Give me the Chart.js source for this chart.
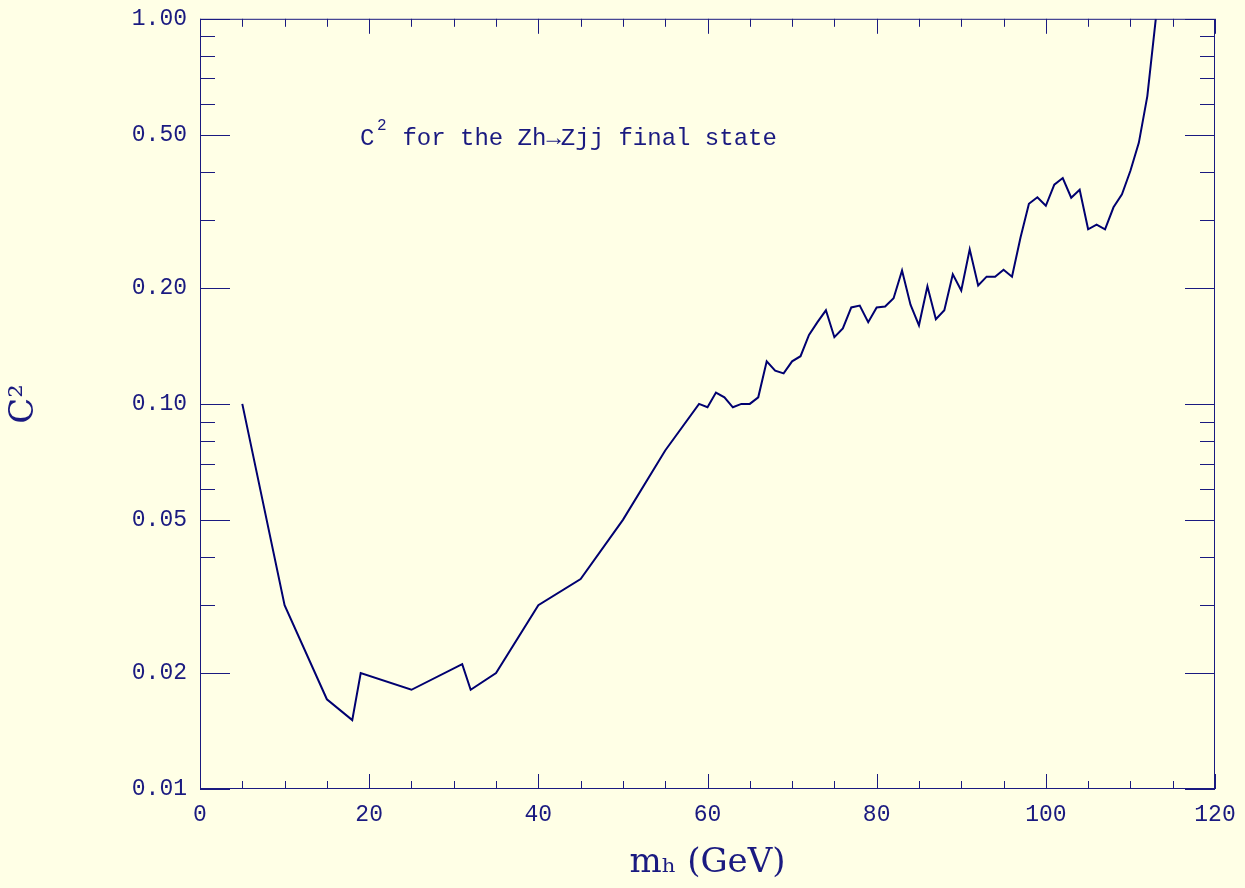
<!DOCTYPE html>
<html><head><meta charset="utf-8">
<script src="https://cdn.jsdelivr.net/npm/chart.js@4"></script>
<style>html,body{margin:0;padding:0;background:#ffffe6;}#w{width:1245px;height:888px;}</style>
</head><body><div id="w"><canvas id="c"></canvas></div>
<script>
const mh = [5,10,15,18,19,25,31,32,35,40,45,50,55,59,60,61,62,63,64,65,66,67,68,69,70,71,72,73,74,75,76,77,78,79,80,81,82,83,84,85,86,87,88,89,90,91,92,93,94,95,96,97,98,99,100,101,102,103,104,105,106,107,108,109,110,111,112,113];
const c2 = [0.1,0.03,0.0171,0.0151,0.02,0.0181,0.0211,0.0181,0.02,0.03,0.0351,0.05,0.0757,0.1,0.098,0.107,0.104,0.098,0.1,0.1,0.104,0.129,0.122,0.12,0.129,0.133,0.151,0.163,0.175,0.149,0.157,0.178,0.18,0.163,0.178,0.179,0.188,0.222,0.181,0.16,0.202,0.166,0.175,0.217,0.197,0.252,0.203,0.214,0.214,0.223,0.214,0.27,0.331,0.344,0.327,0.371,0.386,0.343,0.36,0.284,0.292,0.284,0.324,0.35,0.403,0.477,0.63,1.0];
const yTicks = [0.01,0.02,0.05,0.1,0.2,0.5,1.0];
const yMinor = [0.03,0.04,0.06,0.07,0.08,0.09,0.3,0.4,0.6,0.7,0.8,0.9];
const xTicks = [0,20,40,60,80,100,120];
const col = '#1a1a80';
const font = 'Liberation Mono';
const serif = 'DejaVu Serif';
const ticksPlugin = {id:'tk', afterDraw(ch){
  const {ctx, chartArea:a, scales:{x,y}} = ch;
  ctx.save(); ctx.strokeStyle=col; ctx.lineWidth=1;
  ctx.strokeRect(a.left+0.5,a.top+0.5,a.right-a.left-1,a.bottom-a.top-1);
  ctx.beginPath();
  for(let v=0; v<=120; v+=5){const p=Math.round(x.getPixelForValue(v))+0.5; const L=v%20===0?15:8;
    ctx.moveTo(p,a.bottom);ctx.lineTo(p,a.bottom-L);ctx.moveTo(p,a.top);ctx.lineTo(p,a.top+L);}
  yTicks.concat(yMinor).forEach(v=>{const p=Math.round(y.getPixelForValue(v))+0.5; const L=yTicks.includes(v)?30:15;
    ctx.moveTo(a.left,p);ctx.lineTo(a.left+L,p);ctx.moveTo(a.right,p);ctx.lineTo(a.right-L,p);});
  ctx.stroke();
  ctx.fillStyle=col; ctx.font='24px '+font; ctx.textBaseline='alphabetic';
  ctx.fillText('C',360,145); ctx.font='16px '+font; ctx.fillText('2',377,130);
  ctx.font='24px '+font; ctx.fillText(' for the Zh\u2192Zjj final state',388,145);
  ctx.restore();
}};
new Chart(document.getElementById('c'),{
  type:'line',
  data:{labels:mh,datasets:[{data:mh.map((m,i)=>({x:m,y:c2[i]})),borderColor:'#000070',borderWidth:2,pointRadius:0,tension:0}]},
  options:{responsive:true,maintainAspectRatio:false,animation:false,
    layout:{padding:{top:6,right:30,left:0,bottom:0}},
    plugins:{legend:{display:false},tooltip:{enabled:false}},
    scales:{
      x:{type:'linear',min:0,max:120,grid:{display:false},border:{display:false},
        afterBuildTicks:s=>{s.ticks=xTicks.map(v=>({value:v}));},
        afterFit:s=>{s.height=99;},
        ticks:{color:col,font:{family:font,size:23},padding:4,maxRotation:0},
        title:{display:true,text:'m\u2095 (GeV)',color:col,font:{family:serif,size:34},padding:{top:6}}},
      y:{type:'logarithmic',min:0.01,max:1,grid:{display:false},border:{display:false},
        afterBuildTicks:s=>{s.ticks=yTicks.map(v=>({value:v}));},
        afterFit:s=>{s.width=200;},
        ticks:{color:col,font:{family:font,size:23},padding:5,callback:v=>Number(v).toFixed(2)},
        title:{display:true,text:'C\u00b2',color:col,font:{family:serif,size:34},padding:{bottom:50}}}
    }},
  plugins:[ticksPlugin]
});
</script></body></html>
